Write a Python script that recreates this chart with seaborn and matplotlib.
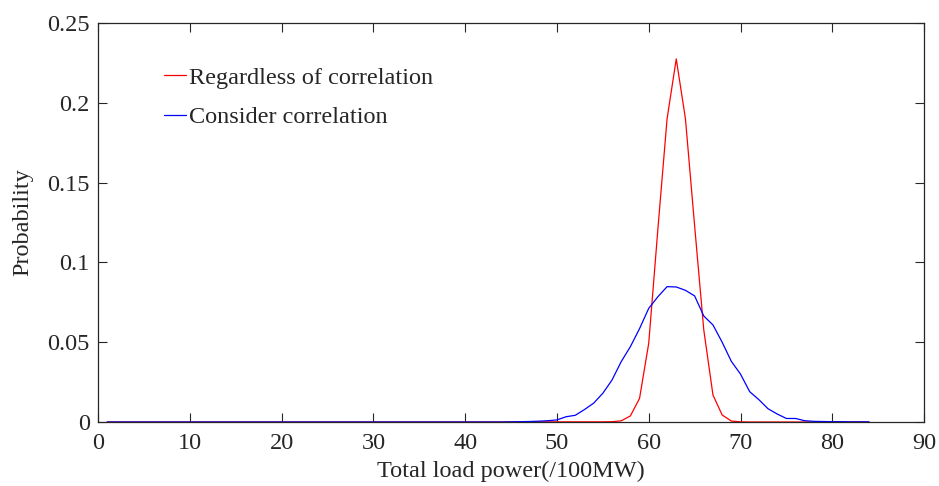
import seaborn as sns
import pandas as pd
import matplotlib
matplotlib.use('Agg')
import matplotlib.pyplot as plt

sns.set_theme(context='paper', style='ticks')
plt.rcParams['font.family'] = ['Liberation Serif', 'DejaVu Serif']
plt.rcParams['mathtext.fontset'] = 'stix'

# x positions (/100MW)
power = list(range(1, 85))

# probability, regardless of correlation (x = 1..84)
p_regardless = [
    0, 0, 0, 0, 0, 0, 0, 0, 0, 0,
    0, 0, 0, 0, 0, 0, 0, 0, 0, 0,
    0, 0, 0, 0, 0, 0, 0, 0, 0, 0,
    0, 0, 0, 0, 0, 0, 0, 0, 0, 0,
    0, 0, 0, 0, 0, 0, 0, 0.0001, 0.0001, 0.0001,
    0.0001, 0.0001, 0.0001, 0.0001, 0.0001, 0.0002, 0.0007, 0.0038, 0.0148, 0.0493,
    0.121, 0.190, 0.2275, 0.190, 0.123, 0.0576, 0.0169, 0.0044, 0.0006, 0.0001,
    0, 0, 0, 0, 0, 0, 0, 0, 0, 0,
    0, 0, 0, 0,
]

# probability, considering correlation (x = 1..84)
p_consider = [
    0, 0, 0, 0, 0, 0, 0, 0, 0, 0,
    0, 0, 0, 0, 0, 0, 0, 0, 0, 0,
    0, 0, 0, 0, 0, 0, 0, 0, 0, 0,
    0, 0, 0, 0, 0, 0, 0, 0, 0, 0,
    0, 0, 0, 0, 0.0001, 0.0002, 0.0003, 0.0005, 0.0008, 0.0013,
    0.0033, 0.0042, 0.0078, 0.0118, 0.018, 0.0263, 0.0378, 0.0472, 0.0585, 0.0712,
    0.0785, 0.0848, 0.0846, 0.0825, 0.079, 0.0664, 0.0608, 0.0500, 0.0380, 0.0300,
    0.019, 0.0140, 0.0083, 0.0050, 0.0022, 0.0022, 0.0008, 0.0004, 0.0003, 0.0002,
    0.0002, 0.0001, 0.0001, 0.0001,
]

labels = ['Regardless of correlation', 'Consider correlation']

df = pd.concat([
    pd.DataFrame({'Power': power, 'Probability': p_regardless, 'Case': labels[0]}),
    pd.DataFrame({'Power': power, 'Probability': p_consider, 'Case': labels[1]}),
])

fig = plt.figure(figsize=(9.39, 4.86), dpi=100)
ax = fig.add_axes([0.1044, 0.1317, 0.8797, 0.821])

sns.lineplot(data=df, x='Power', y='Probability', hue='Case',
             palette={labels[0]: '#ff0000', labels[1]: '#0000ff'},
             linewidth=0.9, ax=ax)

ax.set_xlim(0, 90)
ax.set_ylim(0, 0.25)
ax.set_xticks(range(0, 91, 10))
ax.set_yticks([0, 0.05, 0.1, 0.15, 0.2, 0.25])
ax.set_yticklabels(['0', '0.05', '0.1', '0.15', '0.2', '0.25'])
ax.set_xlabel('Total load power(/100MW)', fontsize=17.5, labelpad=5)
ax.set_ylabel('Probability', fontsize=17.5, labelpad=10)
ax.tick_params(direction='in', length=6.5, width=0.8, labelsize=17.5,
               top=True, right=True, colors='#262626')
ax.tick_params(axis='x', pad=8)
ax.tick_params(axis='y', pad=6)
for s in ax.spines.values():
    s.set_linewidth(0.9)
    s.set_color('#262626')

ax.legend(loc='upper left', bbox_to_anchor=(0.053, 0.945), frameon=False,
          fontsize=17.5, handlelength=0.9, handletextpad=0.15,
          labelspacing=0.72)

fig.savefig('out.png', dpi=100)
